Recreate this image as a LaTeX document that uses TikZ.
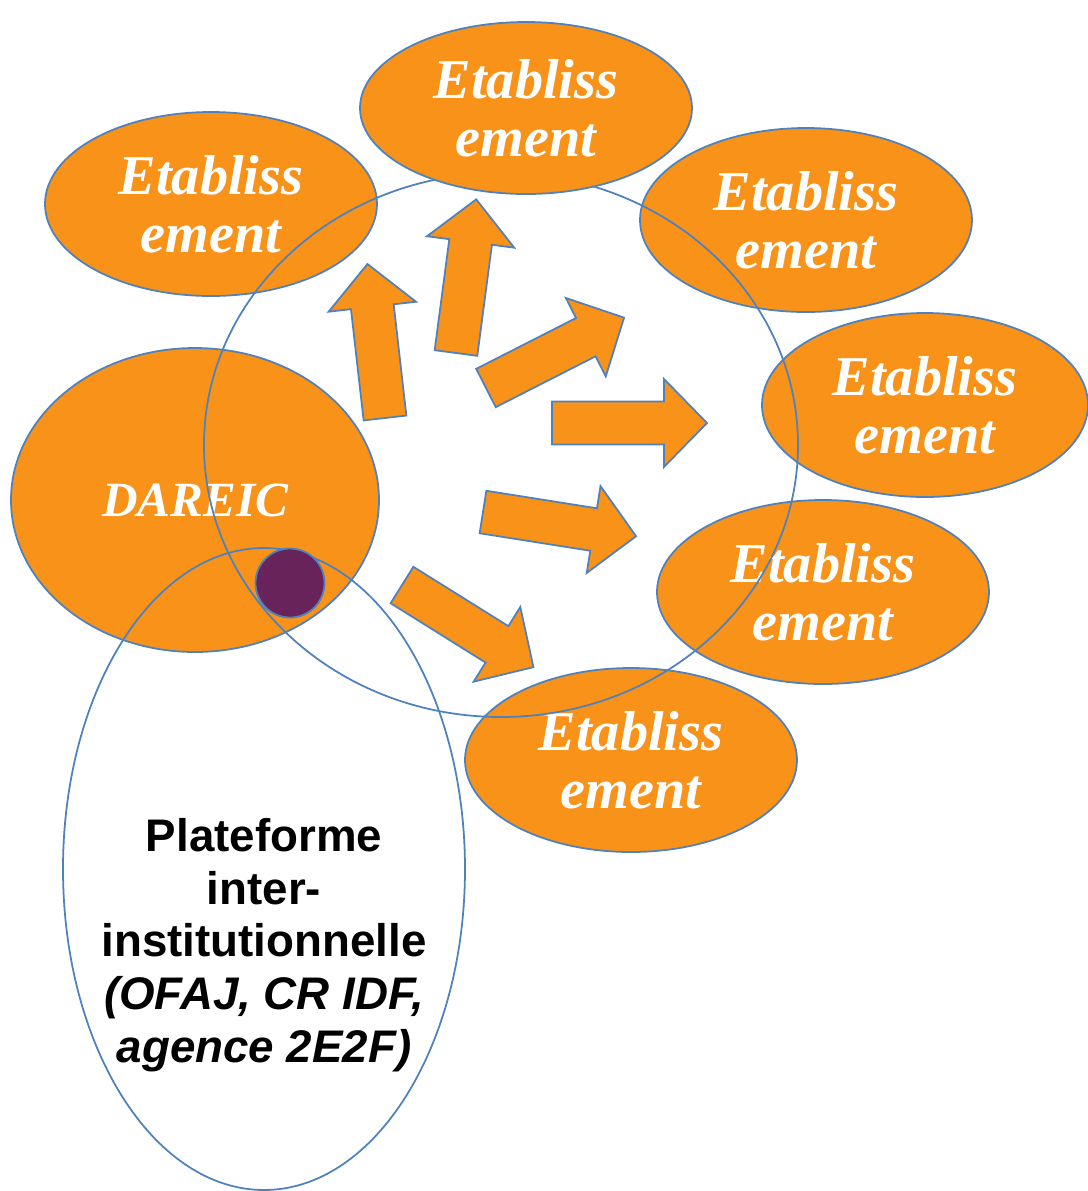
\documentclass[tikz,border=0pt]{standalone}
\usepackage{fontspec}
\setmainfont{Liberation Serif}
\setsansfont{Liberation Sans}
\usetikzlibrary{shapes.geometric}
\definecolor{orangefill}{RGB}{248,146,24}
\definecolor{blueline}{RGB}{79,129,189}
\definecolor{plumdot}{RGB}{104,36,90}
\tikzset{
  etab/.style={ellipse,draw=blueline,line width=0.5pt,fill=orangefill,inner sep=0pt,
    minimum width=3.32cm,minimum height=1.84cm,align=center,text=white,
    font=\fontsize{16}{16.5}\selectfont\bfseries\itshape},
  ring/.style={ellipse,draw=blueline,line width=0.5pt,inner sep=0pt},
  arrowbody/.style={fill=orangefill,draw=blueline,line width=0.5pt,line join=miter},
  pics/flowarrow/.style={code={
    \draw[arrowbody] (0,-0.215) -- (1.12,-0.215) -- (1.12,-0.44) -- (1.55,0)
      -- (1.12,0.44) -- (1.12,0.215) -- (0,0.215) -- cycle;}}
}
\begin{document}
\begin{tikzpicture}
  \useasboundingbox (0,0) rectangle (10.88,-11.91);
  % partner schools and the academy
  \node[etab,minimum width=3.68cm,minimum height=3.04cm,font=\fontsize{14}{15}\selectfont\bfseries\itshape]
    (dareic) at (1.95,-5.00) {DAREIC};
  \node[etab] (e1) at (2.11,-2.04) {Etabliss\\ement};
  \node[etab] (e3) at (8.06,-2.20) {Etabliss\\ement};
  \node[etab,minimum width=3.26cm] (e4) at (9.25,-4.05) {Etabliss\\ement};
  \node[etab] (e5) at (8.23,-5.92) {Etabliss\\ement};
  \node[etab] (e6) at (6.31,-7.60) {Etabliss\\ement};
  % arrows going out
  \pic[rotate=96.5] at (3.85,-4.18) {flowarrow};
  \pic[rotate=82.5] at (4.56,-3.53) {flowarrow};
  \pic[rotate=27] at (4.86,-3.88) {flowarrow};
  \pic at (5.52,-4.23) {flowarrow};
  \pic[rotate=-9] at (4.83,-5.12) {flowarrow};
  \pic[rotate=-32] at (4.02,-5.85) {flowarrow};
  % circles on top
  \node[ring,minimum width=5.94cm,minimum height=5.44cm] (cercle) at (5.01,-4.45) {};
  \node[ring,minimum width=4.02cm,minimum height=6.42cm] (plateforme) at (2.64,-8.69) {};
  \node[font=\sffamily\fontsize{13}{15}\selectfont\bfseries,align=center] (plattexte) at (2.64,-9.45)
    {Plateforme\\inter-\\institutionnelle\\
     \itshape(OFAJ, CR IDF,\\\itshape agence 2E2F)};
  \node[etab,minimum height=1.72cm] (e2) at (5.26,-1.08) {Etabliss\\ement};
  \node[circle,draw=blueline,line width=0.5pt,fill=plumdot,minimum size=0.69cm,inner sep=0pt]
    (point) at (2.90,-5.83) {};
\end{tikzpicture}
\end{document}
